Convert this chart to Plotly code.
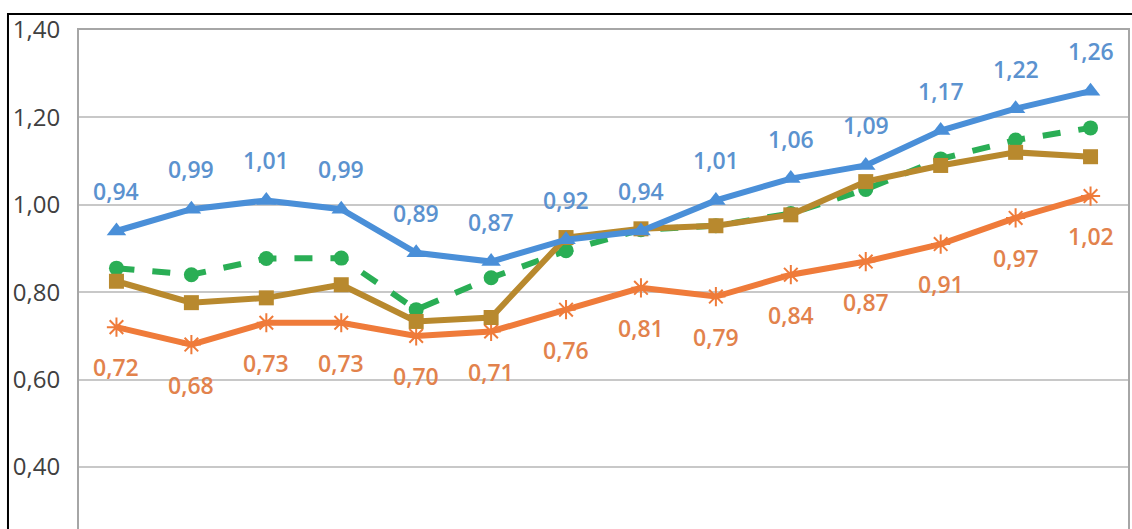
import plotly.graph_objects as go

# Fourteen periods along the category axis
periods = [f"P{i}" for i in range(1, 15)]

blue_vals = [0.94, 0.99, 1.01, 0.99, 0.89, 0.87, 0.92, 0.94, 1.01, 1.06, 1.09, 1.17, 1.22, 1.26]
orange_vals = [0.72, 0.68, 0.73, 0.73, 0.70, 0.71, 0.76, 0.81, 0.79, 0.84, 0.87, 0.91, 0.97, 1.02]
green_vals = [0.855, 0.84, 0.877, 0.878, 0.76, 0.833, 0.895, 0.943, 0.952, 0.98, 1.035, 1.105, 1.148, 1.176]
brown_vals = [0.825, 0.776, 0.787, 0.817, 0.733, 0.742, 0.925, 0.945, 0.952, 0.977, 1.053, 1.09, 1.12, 1.11]

tick_vals = [0.40, 0.60, 0.80, 1.00, 1.20, 1.40]


def fmt(v):
    return f"{v:.2f}".replace(".", ",")


BLUE = "#4A8FD8"
ORANGE = "#EF7B3A"
GREEN = "#2AAE55"
BROWN = "#B8892E"

fig = go.Figure()

fig.add_trace(go.Scatter(
    x=periods, y=orange_vals, mode="lines+markers",
    line=dict(color=ORANGE, width=6),
    marker=dict(symbol="asterisk-open", size=16, color=ORANGE,
                line=dict(color=ORANGE, width=2)),
))
fig.add_trace(go.Scatter(
    x=periods, y=green_vals, mode="lines+markers",
    line=dict(color=GREEN, width=6, dash="dash"),
    marker=dict(symbol="circle", size=15, color=GREEN),
))
fig.add_trace(go.Scatter(
    x=periods, y=brown_vals, mode="lines+markers",
    line=dict(color=BROWN, width=6),
    marker=dict(symbol="square", size=15, color=BROWN),
))
fig.add_trace(go.Scatter(
    x=periods, y=blue_vals, mode="lines+markers",
    line=dict(color=BLUE, width=6),
    marker=dict(symbol="triangle-up", size=17, color=BLUE),
))

annotations = []
for p, v in zip(periods, blue_vals):
    annotations.append(dict(
        x=p, y=v, text=fmt(v), showarrow=False, yshift=40,
        font=dict(family="Open Sans", size=23, color="#5B92CF", weight=600),
    ))
for p, v in zip(periods, orange_vals):
    annotations.append(dict(
        x=p, y=v, text=fmt(v), showarrow=False, yshift=-40,
        font=dict(family="Open Sans", size=23, color="#E2824C", weight=600),
    ))

shapes = [
    # outer frame around the whole chart
    dict(type="rect", xref="paper", yref="paper",
         x0=-0.0677, x1=1.05, y0=-0.2, y1=1.032,
         line=dict(color="#000000", width=2), fillcolor="rgba(0,0,0,0)", layer="below"),
]

fig.update_layout(
    width=1132, height=529,
    margin=dict(l=79, r=4, t=30, b=0),
    paper_bgcolor="white", plot_bgcolor="white",
    showlegend=False,
    annotations=annotations,
    shapes=shapes,
    font=dict(family="Open Sans"),
)
fig.update_xaxes(
    type="category", range=[-0.5, 13.5], showticklabels=False,
    showgrid=False, showline=True, mirror=True, linecolor="#A6A6A6", linewidth=2,
    zeroline=False,
)
fig.update_yaxes(
    range=[0.258, 1.40], tickvals=tick_vals, ticktext=[fmt(t) for t in tick_vals],
    tickfont=dict(family="Open Sans", size=24, color="#404040"),
    showgrid=True, gridcolor="#C8C8C8", gridwidth=2,
    showline=True, mirror=True, linecolor="#A6A6A6", linewidth=2,
    zeroline=False, ticklabelstandoff=12,
)

fig.write_html("out.html")
